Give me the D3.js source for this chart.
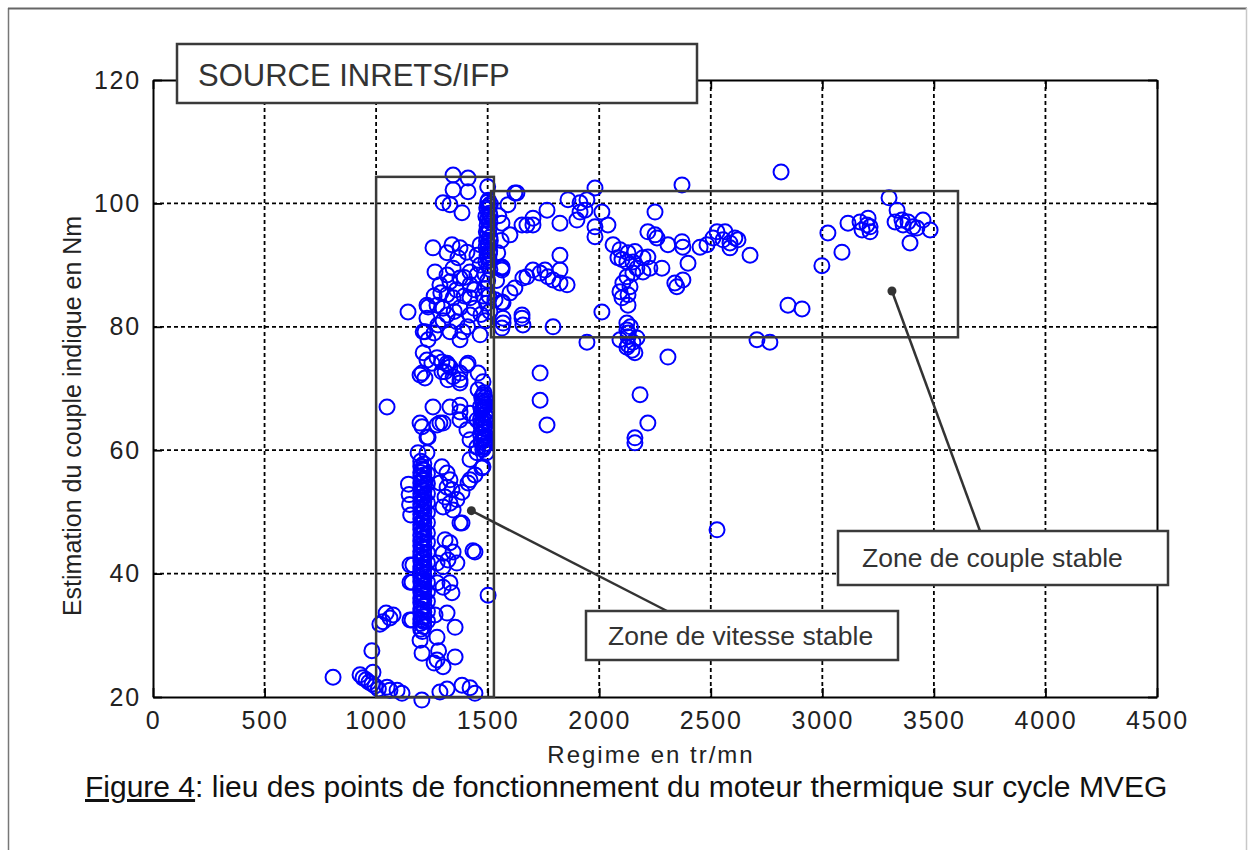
<!DOCTYPE html>
<html>
<head>
<meta charset="utf-8">
<script src="https://cdn.jsdelivr.net/npm/d3@7"></script>
<style>
  body { margin: 0; background: #fff; }
  text { font-family: "Liberation Sans", Arial, Helvetica, sans-serif; }
</style>
</head>
<body>
<div id="chart"></div>
<script>
// --- data (regime tr/mn, couple Nm) ---
const regimeTicks = [0, 500, 1000, 1500, 2000, 2500, 3000, 3500, 4000, 4500];
const coupleTicks = [20, 40, 60, 80, 100, 120];

const lowTail = [
  [807,23.2],[928,23.6],[941,23.1],[955,22.8],[968,22.4],[982,22.1],[995,21.8],[986,24.0],
  [981,27.5],[1017,31.8],[1031,32.2],[1045,33.6],[1062,32.8],[1076,33.3],[1049,21.6],[1062,21.1],
  [1094,21.1],[1116,20.6],[1010,21.3]
];

// dense vertical stack around 1200 tr/mn
const stackX = [1200, 1214, 1230, 1207];
const stackA = [58.2,57.4,56.4,55.7,54.7,53.9,53.0,52.3,51.3,50.6,49.6,48.9,47.9,47.2,46.2,45.3,44.5,
  43.6,42.8,42.1,41.1,40.4,39.4,38.7,37.7,37.0,36.0,35.3,34.3,33.6,32.6,31.9,31.0];
const stackB = [57.8,56.8,56.0,55.1,54.2,53.4,52.6,51.7,50.9,50.0,49.1,48.3,47.5,46.6,45.8,44.9,
  44.0,43.2,42.4,41.5,40.7,39.8,38.9,38.1,37.3,36.4,35.6,34.7,33.8,33.0,32.2,31.4];
const stackC = [56.2,54.6,53.0,51.5,49.9,48.3,46.6,45.1,43.4,41.8,40.2,38.6,37.0,35.5,33.9,32.3];
const stackD = [57.0,55.3,53.6,52.0,50.3,48.6,46.9,45.7,44.2,42.5,40.9,39.1,37.5,35.9,34.1,32.4,30.6];

const band = [
  [1205,19.5],[1286,20.8],[1318,21.3],[1385,21.9],[1421,21.5],[1443,20.6],[1502,36.5],[1434,43.7],[1376,48.2],
  [1206,63.8],[1273,64.1],[1300,64.4],[1228,62.1],[1188,59.6],[1228,59.6],
  [1295,57.3],[1318,56.3],[1331,55.2],[1286,54.7],[1318,54.0],[1340,53.6],[1309,52.4],[1331,51.4],[1300,50.8],[1345,50.3],
  [1412,54.7],[1385,53.2],[1362,52.0],[1385,48.2],[1443,43.5],
  [1331,45.0],[1309,45.5],[1345,43.5],[1300,43.3],[1322,42.2],[1362,41.7],
  [1165,41.4],[1273,41.7],[1300,41.1],[1161,38.6],[1273,38.5],[1300,37.8],[1331,38.5],[1340,36.9],
  [1152,32.5],[1264,33.3],[1318,33.6],[1354,31.3],
  [1197,29.2],[1273,29.7],[1206,27.1],[1273,26.0],[1300,24.9],[1354,26.5],[1260,25.5],[1280,27.5],
  [1145,54.5],[1148,52.8],[1150,51.2],[1155,49.5],[1152,41.4],[1152,38.6],[1161,32.5],
  [1049,67.0],[1197,72.2],[1211,75.8],[1228,74.6],[1273,75.0],[1318,74.1],[1295,72.7],[1331,73.5],[1376,71.4],
  [1407,73.8],[1345,71.9],[1255,67.0],[1197,64.4],[1233,62.1],[1286,64.4],[1331,67.0],[1376,66.2],[1376,64.9],
  [1407,63.3],[1421,61.7],[1452,60.5],[1474,57.1],[1421,55.2],[1211,56.8],[1452,59.6],[1479,57.3],[1421,58.5],[1443,56.0],
  [1345,104.6],[1412,104.1],[1345,102.2],[1412,101.9],[1331,99.8],[1385,98.5],[1300,100.1],
  [1255,92.8],[1340,93.3],[1376,92.8],[1407,92.1],[1318,92.0],[1367,91.2],
  [1264,88.9],[1318,88.4],[1345,89.5],[1286,86.8],[1331,87.3],[1376,87.9],[1421,88.9],
  [1466,93.3],[1452,91.6],[1466,90.0],[1452,88.4],[1421,86.8],[1421,84.7],[1345,84.7],[1318,85.2],[1376,83.1],
  [1318,81.9],[1273,83.5],[1228,83.5],[1143,82.4],[1228,81.4],[1211,79.2],[1277,80.3],[1362,80.8],[1421,81.9],
  [1331,79.2],[1389,79.2],[1466,78.7],[1376,77.9],
  [1233,83.2],[1219,79.2],[1233,77.9],[1250,74.1],[1295,74.3],[1322,73.8],[1206,72.5],[1219,71.7],[1309,72.7],
  [1322,71.4],[1376,72.5],[1376,70.9],[1412,74.1],[1457,72.5],[1479,71.1],[1457,69.8],[1376,67.3],[1421,66.0],[1452,64.9],
  [1290,85.5],[1300,83.0],[1350,82.5],[1395,85.0],[1440,83.0],[1410,80.0],[1440,86.0],[1360,86.0],[1300,81.0],
  [1260,85.0],[1480,85.0],[1470,82.0],[1395,88.0],[1260,79.0],[1500,102.7]
];

// dense stack near 1500 tr/mn, high torque
const stackHigh = [
  [1500,100.2],[1505,99.6],[1498,99.0],[1508,98.4],[1502,97.7],[1510,97.0],[1497,96.4],[1506,95.8],[1500,95.1],
  [1510,94.5],[1495,93.9],[1504,93.2],[1498,92.5],[1508,91.9],[1500,91.2],[1492,90.6],[1505,90.0],[1510,89.3],
  [1488,88.5],[1500,87.5],[1490,86.2],[1505,85.0],[1495,83.8],[1510,82.5],[1490,81.0],
  [1503,100.5],[1496,99.3],[1511,98.0],[1499,97.3],[1507,96.1],[1494,95.4],[1512,94.0],[1501,93.6],[1493,92.9],
  [1509,92.3],[1497,91.6],[1507,90.8],[1512,99.9],[1492,97.9]
];
// dense stack near 1480 tr/mn, 60-70 Nm
const stackMid = [
  [1480,69.0],[1488,68.5],[1476,68.0],[1490,67.4],[1482,66.9],[1472,66.3],[1488,65.8],[1478,65.2],[1492,64.7],
  [1470,64.1],[1484,63.6],[1476,63.0],[1490,62.4],[1480,61.9],[1470,61.3],[1486,60.7],[1478,60.1],[1494,59.6],
  [1468,62.6],[1494,66.1],
  [1484,69.3],[1473,68.6],[1492,68.0],[1479,67.6],[1468,67.1],[1486,67.1],[1476,66.6],[1494,65.4],[1468,65.0],
  [1482,64.4],[1474,63.9],[1492,63.3],[1480,62.9],[1486,62.1],[1474,61.6],[1490,61.1],[1482,60.4]
];

const plateau = [
  [1622,101.7],[1631,101.7],[1591,99.8],[1564,96.8],[1600,94.9],[1654,96.5],[1703,97.6],[1703,96.5],[1766,98.9],
  [1824,96.8],[1860,100.6],[1914,100.1],[1936,98.9],[1981,102.5],[1945,100.6],[1914,98.6],[1981,96.2],[1981,94.6],
  [2012,98.6],[2039,96.5],[1900,97.3],[1676,96.5],
  [1564,89.5],[1658,87.9],[1654,81.4],[1564,84.0],[1569,81.4],[1564,79.8],
  [2062,93.3],[2093,92.5],[2102,90.9],[2129,92.0],[2160,92.2],[2084,91.2],[2124,90.5],[2151,90.5],[2196,91.2],
  [2218,91.3],[2169,89.5],[2151,88.7],[2196,88.9],[2227,89.5],[2281,89.5],[2124,88.1],[2106,87.1],[2093,85.7],
  [2102,84.7],[2129,85.2],[2138,86.5],[2129,83.5],[2398,90.3],[2339,87.1],[2375,87.6],[2348,86.5],
  [2250,98.6],[2218,95.4],[2250,94.9],[2259,94.4],[2308,93.3],[2371,93.8],[2375,92.9],
  [2452,92.9],[2483,93.3],[2510,94.4],[2528,95.4],[2564,95.4],[2555,94.1],[2586,92.8],[2608,94.4],[2622,94.1],
  [2586,93.6],[2676,91.6],[2371,103.0],[2815,105.1],
  [2124,80.6],[2124,79.5],[2129,78.4],[2093,77.9],[2151,77.5],[2169,78.2],[2129,77.1],[2160,75.8],[2124,76.7],
  [2147,76.2],[2130,79.0],[2140,80.0],
  [1945,77.5],[2308,75.1],[1793,80.0],[2012,82.4],[1569,80.6],[1658,80.3],[2707,77.9],[2765,77.5],
  [1735,72.5],[1735,68.1],[1766,64.1],[2183,69.0],[2218,64.4],[2160,62.0],[2160,61.2],[2528,47.1],
  [2846,83.5],[2909,82.9],[2998,89.9],[3025,95.2],[3088,92.1],[3115,96.8],
  [3169,97.0],[3205,97.6],[3178,95.7],[3214,95.4],[3200,96.5],[3214,96.2],
  [3299,100.9],[3335,98.9],[3326,97.0],[3357,97.3],[3384,97.0],[3406,96.2],[3451,97.3],[3483,95.7],[3393,93.6],
  [3362,96.5],[3424,96.0],
  [1676,88.1],[1703,89.2],[1735,88.7],[1757,89.2],[1770,88.1],[1793,87.6],[1824,89.2],[1824,87.1],[1856,86.8],
  [1824,91.6],[1622,86.3],[1564,89.7],[1564,89.2],[1533,84.4],[1569,83.9],[1654,81.9],[1600,85.5],[1540,87.5],
  [1545,92.0],[1560,94.0],[1550,98.0]
];

// zones drawn on the chart: [x0, x1, y0, y1] in data units
const zoneVitesse = [1000, 1528, 20, 104.3];
const zoneCouple = [1515, 3608, 78.3, 102.0];
const pointerVitesse = [1427, 50.2];
const pointerCouple = [3312, 85.8];

// --- layout ---
const W = 1248, H = 850;
const mLeft = 153, mRight = 1157, mTop = 80, mBottom = 697;

const svg = d3.select('#chart').append('svg')
  .attr('width', W).attr('height', H);

// outer frame of the figure
svg.append('line').attr('x1', 8.5).attr('x2', 8.5).attr('y1', 8).attr('y2', H)
  .attr('stroke', '#777').attr('stroke-width', 1.5);
svg.append('line').attr('x1', 8).attr('x2', 1247).attr('y1', 8.5).attr('y2', 8.5)
  .attr('stroke', '#666').attr('stroke-width', 2);
svg.append('line').attr('x1', 1246.5).attr('x2', 1246.5).attr('y1', 8).attr('y2', H)
  .attr('stroke', '#c8c8c8').attr('stroke-width', 1.5);

const x = d3.scaleLinear().domain([0, 4500]).range([mLeft, mRight]);
const y = d3.scaleLinear().domain([20, 120]).range([mBottom, mTop]);

// grid
const grid = svg.append('g').attr('stroke', '#000').attr('stroke-width', 1.8)
  .attr('stroke-dasharray', '4,3');
grid.selectAll('.gx').data(regimeTicks.slice(1, -1)).enter().append('line')
  .attr('x1', d => x(d)).attr('x2', d => x(d)).attr('y1', mTop).attr('y2', mBottom);
grid.selectAll('.gy').data(coupleTicks.slice(1, -1)).enter().append('line')
  .attr('x1', mLeft).attr('x2', mRight).attr('y1', d => y(d)).attr('y2', d => y(d));

// axes
const tickFont = g => g.selectAll('text')
  .style('font-size', '25px').style('letter-spacing', '1.8px').attr('fill', '#222');

const gx = svg.append('g').attr('transform', `translate(0,${mBottom})`)
  .call(d3.axisBottom(x).tickValues(regimeTicks).tickFormat(d3.format('d'))
    .tickSizeInner(-9).tickSizeOuter(0).tickPadding(14));
gx.call(tickFont);
const gy = svg.append('g').attr('transform', `translate(${mLeft},0)`)
  .call(d3.axisLeft(y).tickValues(coupleTicks).tickSizeInner(-9).tickSizeOuter(0).tickPadding(12));
gy.call(tickFont);
svg.append('g').attr('transform', `translate(${mRight},0)`)
  .call(d3.axisRight(y).tickValues(coupleTicks).tickFormat('').tickSizeInner(-9).tickSizeOuter(0));
svg.append('g').attr('transform', `translate(0,${mTop})`)
  .call(d3.axisTop(x).tickValues(regimeTicks).tickFormat('').tickSizeInner(-9).tickSizeOuter(0));
svg.selectAll('.domain').attr('stroke', '#000').attr('stroke-width', 2);
svg.selectAll('.tick line').attr('stroke', '#000').attr('stroke-width', 1.8);

// points
const stackPts = [
  ...stackA.map(v => [stackX[0], v]),
  ...stackB.map(v => [stackX[1], v]),
  ...stackC.map(v => [stackX[2], v]),
  ...stackD.map(v => [stackX[3], v])
];
const allPts = [...lowTail, ...band, ...stackPts, ...stackHigh, ...stackMid, ...plateau];

svg.append('g').selectAll('circle').data(allPts).enter().append('circle')
  .attr('cx', d => x(d[0])).attr('cy', d => y(d[1])).attr('r', 7.5)
  .attr('fill', 'none').attr('stroke', '#0000ff').attr('stroke-width', 2);

// zone rectangles
const zoneRect = z => svg.append('rect')
  .attr('x', x(z[0])).attr('y', y(z[3]))
  .attr('width', x(z[1]) - x(z[0])).attr('height', y(z[2]) - y(z[3]))
  .attr('fill', 'none').attr('stroke', '#3a3a3a').attr('stroke-width', 2.5);
zoneRect(zoneVitesse);
zoneRect(zoneCouple);

// annotation boxes
const box = (bx, by, bw, bh, label, size, tx, ty) => {
  svg.append('rect').attr('x', bx).attr('y', by).attr('width', bw).attr('height', bh)
    .attr('fill', '#fff').attr('stroke', '#3a3a3a').attr('stroke-width', 2.5);
  svg.append('text').attr('x', tx).attr('y', ty).attr('fill', '#333')
    .style('font-size', size + 'px').text(label);
};
box(177, 44, 520, 59, 'SOURCE INRETS/IFP', 31, 198, 86);

// leader lines
const leader = (p, ex, ey) => {
  svg.append('line').attr('x1', x(p[0])).attr('y1', y(p[1])).attr('x2', ex).attr('y2', ey)
    .attr('stroke', '#333').attr('stroke-width', 2.5);
  svg.append('circle').attr('cx', x(p[0])).attr('cy', y(p[1])).attr('r', 4.5).attr('fill', '#333');
};
leader(pointerVitesse, 667, 611);
leader(pointerCouple, 980, 531);

box(586, 611, 312, 49, 'Zone de vitesse stable', 26.5, 608, 645);
box(838, 531, 330, 54, 'Zone de couple stable', 26.5, 862, 567);

// axis titles
svg.append('text').attr('x', 651).attr('y', 763).attr('text-anchor', 'middle')
  .attr('fill', '#222').style('font-size', '24px').style('letter-spacing', '2px')
  .text('Regime en tr/mn');
svg.append('text').attr('transform', 'translate(81,416) rotate(-90)').attr('text-anchor', 'middle')
  .attr('fill', '#222').style('font-size', '25px')
  .text('Estimation du couple indique en Nm');

// caption
const cap = svg.append('text').attr('x', 85).attr('y', 797).attr('fill', '#111')
  .style('font-size', '30px');
cap.append('tspan').style('text-decoration', 'underline').text('Figure 4');
cap.append('tspan').text(': lieu des points de fonctionnement du moteur thermique sur cycle MVEG');
</script>
</body>
</html>
